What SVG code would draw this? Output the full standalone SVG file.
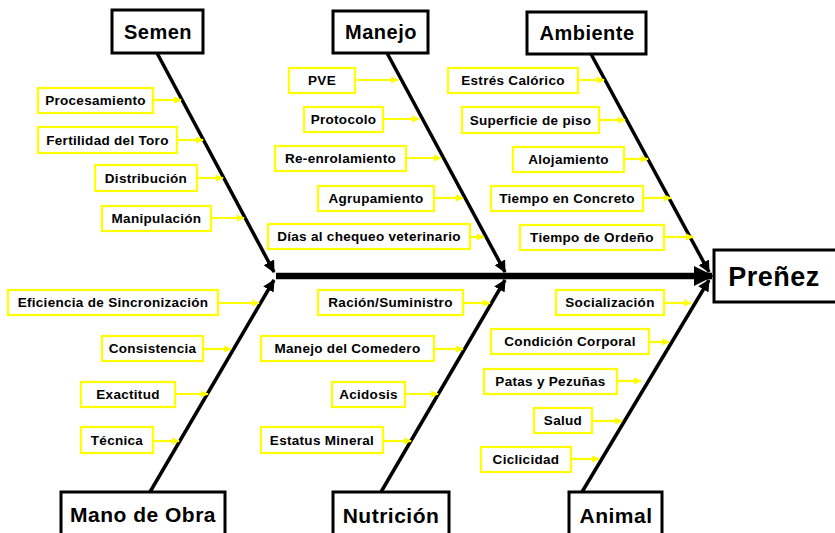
<svg xmlns="http://www.w3.org/2000/svg" width="835" height="533" viewBox="0 0 835 533">
<style>
.bg{fill:#fff}
.cat{fill:#fff;stroke:#000;stroke-width:3}
.ct{font-family:"Liberation Sans",Arial,sans-serif;font-weight:bold;font-size:20px;letter-spacing:0.5px;text-anchor:middle;fill:#000}
.cb{font-size:21px}
.eff{font-size:27px}
.lb{fill:#fff;stroke:#ffff00;stroke-width:2.2}
.lt{font-family:"Liberation Sans",Arial,sans-serif;font-weight:bold;font-size:13.5px;letter-spacing:0.3px;text-anchor:middle;fill:#000}
.ya{stroke:#ffff00;stroke-width:2.2;marker-end:url(#ya)}
.bone{stroke:#000;stroke-width:3.5;fill:none;marker-end:url(#ba)}
.spine{stroke:#000;stroke-width:6.5;fill:none;marker-end:url(#big)}
</style>
<defs>
<marker id="ya" markerUnits="userSpaceOnUse" markerWidth="8" markerHeight="8" refX="7" refY="4" orient="auto"><path d="M0,0.5 L8,4 L0,7.5 z" fill="#ffff00"/></marker>
<marker id="ba" markerUnits="userSpaceOnUse" markerWidth="12" markerHeight="12" refX="11" refY="6" orient="auto"><path d="M0,0 L12,6 L0,12 z" fill="#000"/></marker>
<marker id="big" markerUnits="userSpaceOnUse" markerWidth="20" markerHeight="20" refX="18" refY="10" orient="auto"><path d="M0,0 L20,10 L0,20 z" fill="#000"/></marker>
</defs>
<rect class="bg" x="0" y="0" width="835" height="533"/>
<g id="connectors">
<line class="spine" x1="276" y1="276" x2="712" y2="276"/>
<line class="bone" x1="157" y1="53" x2="274" y2="272"/>
<line class="bone" x1="387" y1="53" x2="505" y2="272"/>
<line class="bone" x1="591" y1="54" x2="709" y2="272"/>
<line class="bone" x1="150" y1="492" x2="274" y2="280"/>
<line class="bone" x1="381" y1="492" x2="505" y2="280"/>
<line class="bone" x1="582" y1="492" x2="709" y2="280"/>
<line class="ya" x1="153" y1="100" x2="181" y2="100"/>
<line class="ya" x1="177" y1="140" x2="203" y2="140"/>
<line class="ya" x1="197" y1="178" x2="223" y2="178"/>
<line class="ya" x1="211" y1="218" x2="244" y2="218"/>
<line class="ya" x1="355" y1="80" x2="398" y2="80"/>
<line class="ya" x1="383" y1="119" x2="419" y2="119"/>
<line class="ya" x1="406" y1="158" x2="441" y2="158"/>
<line class="ya" x1="434" y1="198" x2="463" y2="198"/>
<line class="ya" x1="470" y1="237" x2="484" y2="237"/>
<line class="ya" x1="578" y1="80" x2="604" y2="80"/>
<line class="ya" x1="599" y1="120" x2="625" y2="120"/>
<line class="ya" x1="624" y1="159" x2="648" y2="159"/>
<line class="ya" x1="643" y1="198" x2="671" y2="198"/>
<line class="ya" x1="664" y1="237" x2="693" y2="237"/>
<line class="ya" x1="218" y1="303" x2="259" y2="303"/>
<line class="ya" x1="203" y1="349" x2="231" y2="349"/>
<line class="ya" x1="175" y1="394" x2="208" y2="394"/>
<line class="ya" x1="153" y1="441" x2="179" y2="441"/>
<line class="ya" x1="463" y1="303" x2="490" y2="303"/>
<line class="ya" x1="434" y1="349" x2="463" y2="349"/>
<line class="ya" x1="405" y1="394" x2="438" y2="394"/>
<line class="ya" x1="383" y1="441" x2="411" y2="441"/>
<line class="ya" x1="664" y1="303" x2="691" y2="303"/>
<line class="ya" x1="649" y1="342" x2="669" y2="342"/>
<line class="ya" x1="617" y1="381" x2="641" y2="381"/>
<line class="ya" x1="592" y1="421" x2="622" y2="421"/>
<line class="ya" x1="571" y1="459" x2="599" y2="459"/>
</g>
<g id="effect"><rect class="cat" x="714" y="250" width="125" height="52"/><text class="ct eff" x="774" y="286">Preñez</text></g>
<g id="semen"><rect class="cat" x="112" y="10" width="91" height="43"/><text class="ct" x="158" y="39">Semen</text></g>
<g id="manejo"><rect class="cat" x="333" y="11" width="95" height="42"/><text class="ct" x="381" y="39">Manejo</text></g>
<g id="ambiente"><rect class="cat" x="527" y="12" width="119" height="42"/><text class="ct" x="587" y="40">Ambiente</text></g>
<g id="mano"><rect class="cat" x="61" y="492" width="164" height="50"/><text class="ct cb" x="143" y="522">Mano de Obra</text></g>
<g id="nutricion"><rect class="cat" x="333" y="492" width="116" height="50"/><text class="ct cb" x="391" y="523">Nutrición</text></g>
<g id="animal"><rect class="cat" x="569" y="492" width="93" height="50"/><text class="ct cb" x="616" y="523">Animal</text></g>
<g id="l-procesamiento"><rect class="lb" x="38" y="88" width="115" height="25"/><text class="lt" x="95.5" y="105">Procesamiento</text></g>
<g id="l-fertilidad"><rect class="lb" x="38" y="127" width="139" height="26"/><text class="lt" x="107.5" y="144.5">Fertilidad del Toro</text></g>
<g id="l-distribucion"><rect class="lb" x="95" y="165" width="102" height="26"/><text class="lt" x="146" y="182.5">Distribución</text></g>
<g id="l-manipulacion"><rect class="lb" x="102" y="206" width="109" height="25"/><text class="lt" x="156.5" y="223">Manipulación</text></g>
<g id="l-pve"><rect class="lb" x="289" y="68" width="66" height="25"/><text class="lt" x="322" y="85">PVE</text></g>
<g id="l-protocolo"><rect class="lb" x="304" y="107" width="79" height="25"/><text class="lt" x="343.5" y="124">Protocolo</text></g>
<g id="l-reenrolamiento"><rect class="lb" x="275" y="146" width="131" height="25"/><text class="lt" x="340.5" y="163">Re-enrolamiento</text></g>
<g id="l-agrupamiento"><rect class="lb" x="318" y="186" width="116" height="25"/><text class="lt" x="376" y="203">Agrupamiento</text></g>
<g id="l-dias"><rect class="lb" x="268" y="224" width="202" height="25"/><text class="lt" x="369" y="241">Días al chequeo veterinario</text></g>
<g id="l-estres"><rect class="lb" x="448" y="68" width="130" height="25"/><text class="lt" x="513" y="85">Estrés Calórico</text></g>
<g id="l-superficie"><rect class="lb" x="462" y="107" width="137" height="26"/><text class="lt" x="530.5" y="124.5">Superficie de piso</text></g>
<g id="l-alojamiento"><rect class="lb" x="513" y="147" width="111" height="25"/><text class="lt" x="568.5" y="164">Alojamiento</text></g>
<g id="l-concreto"><rect class="lb" x="491" y="186" width="152" height="25"/><text class="lt" x="567" y="203">Tiempo en Concreto</text></g>
<g id="l-ordeno"><rect class="lb" x="520" y="225" width="144" height="25"/><text class="lt" x="592" y="242">Tiempo de Ordeño</text></g>
<g id="l-eficiencia"><rect class="lb" x="8" y="290" width="210" height="25"/><text class="lt" x="113" y="307">Eficiencia de Sincronización</text></g>
<g id="l-consistencia"><rect class="lb" x="102" y="336" width="101" height="25"/><text class="lt" x="152.5" y="353">Consistencia</text></g>
<g id="l-exactitud"><rect class="lb" x="81" y="382" width="94" height="25"/><text class="lt" x="128" y="399">Exactitud</text></g>
<g id="l-tecnica"><rect class="lb" x="81" y="427" width="72" height="26"/><text class="lt" x="117" y="444.5">Técnica</text></g>
<g id="l-racion"><rect class="lb" x="318" y="290" width="145" height="25"/><text class="lt" x="390.5" y="307">Ración/Suministro</text></g>
<g id="l-comedero"><rect class="lb" x="261" y="336" width="173" height="25"/><text class="lt" x="347.5" y="353">Manejo del Comedero</text></g>
<g id="l-acidosis"><rect class="lb" x="332" y="382" width="73" height="25"/><text class="lt" x="368.5" y="399">Acidosis</text></g>
<g id="l-mineral"><rect class="lb" x="261" y="427" width="122" height="26"/><text class="lt" x="322" y="444.5">Estatus Mineral</text></g>
<g id="l-socializacion"><rect class="lb" x="556" y="290" width="108" height="25"/><text class="lt" x="610" y="307">Socialización</text></g>
<g id="l-condicion"><rect class="lb" x="491" y="329" width="158" height="25"/><text class="lt" x="570" y="346">Condición Corporal</text></g>
<g id="l-patas"><rect class="lb" x="484" y="369" width="133" height="25"/><text class="lt" x="550.5" y="386">Patas y Pezuñas</text></g>
<g id="l-salud"><rect class="lb" x="534" y="408" width="58" height="25"/><text class="lt" x="563" y="425">Salud</text></g>
<g id="l-ciclicidad"><rect class="lb" x="481" y="447" width="90" height="25"/><text class="lt" x="526" y="464">Ciclicidad</text></g>
</svg>
